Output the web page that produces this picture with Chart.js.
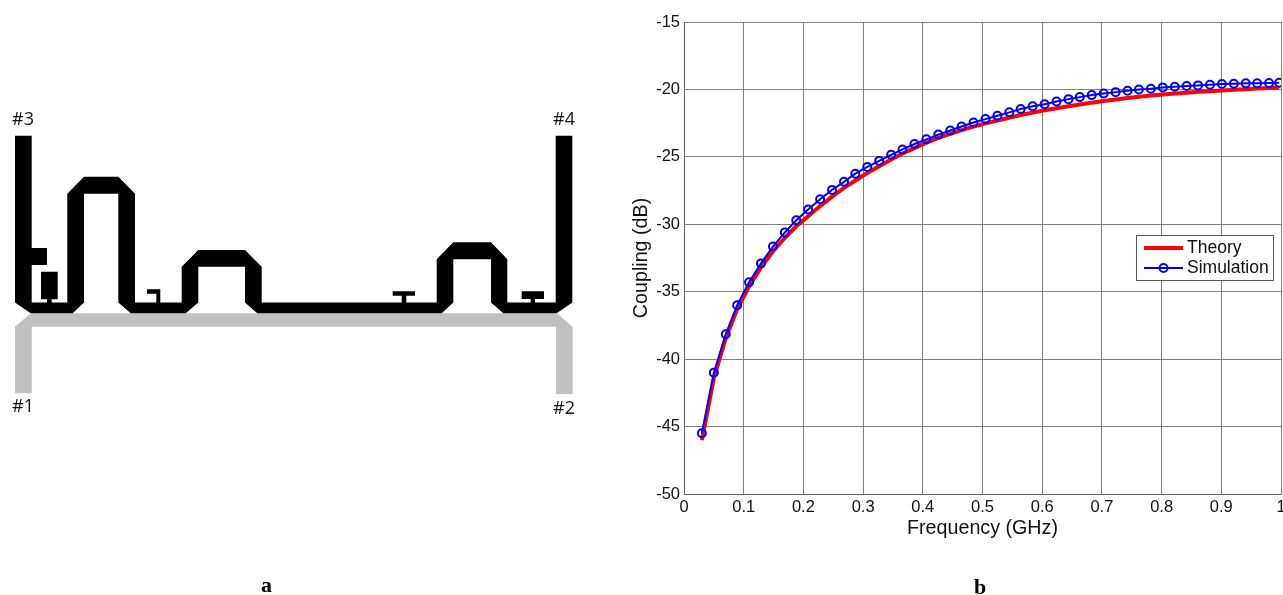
<!DOCTYPE html>
<html>
<head>
<meta charset="utf-8">
<title>Coupler layout and coupling</title>
<script src="https://cdn.jsdelivr.net/npm/chart.js@4/dist/chart.umd.js"></script>
<style>
  html, body { margin: 0; padding: 0; background: #fff; overflow: hidden; }
  canvas { position: absolute; top: 0; }
  #layoutChart { left: 0; }
  #couplingChart { left: 620px; }
  .port { position: absolute; font: 18px "Open Sans", sans-serif; color: #111; line-height: 22px; }
  .cap { position: absolute; font: bold 22px "Liberation Serif", serif; color: #000; line-height: 24px; }
</style>
</head>
<body>
<canvas id="layoutChart" width="620" height="595"></canvas>
<canvas id="couplingChart" width="663" height="595"></canvas>
<div class="port" style="left:12px;top:107px">#3</div>
<div class="port" style="left:553px;top:107px">#4</div>
<div class="port" style="left:12px;top:394px">#1</div>
<div class="port" style="left:553px;top:396px">#2</div>
<div class="cap" style="left:261px;top:573px">a</div>
<div class="cap" style="left:974px;top:575px">b</div>
<script>
// frequence en GHz
var frequency = [0.03, 0.05, 0.07, 0.089, 0.109, 0.129, 0.149, 0.169, 0.188, 0.208,
  0.228, 0.248, 0.268, 0.287, 0.307, 0.327, 0.347, 0.366, 0.386, 0.406,
  0.426, 0.446, 0.465, 0.485, 0.505, 0.525, 0.545, 0.564, 0.584, 0.604,
  0.624, 0.644, 0.663, 0.683, 0.703, 0.723, 0.743, 0.762, 0.782, 0.802,
  0.822, 0.842, 0.861, 0.881, 0.901, 0.921, 0.941, 0.96, 0.98, 0.997];

var theory = [-46, -41.4, -38.45, -36.3, -34.6, -33.2, -32, -31, -30.15, -29.4,
  -28.65, -27.95, -27.3, -26.75, -26.2, -25.7, -25.2, -24.75, -24.35, -23.95,
  -23.6, -23.3, -23.02, -22.76, -22.52, -22.3, -22.1, -21.9, -21.72, -21.55,
  -21.4, -21.25, -21.12, -20.98, -20.86, -20.75, -20.64, -20.54, -20.45, -20.37,
  -20.3, -20.24, -20.18, -20.13, -20.08, -20.03, -19.98, -19.94, -19.9, -19.87];

var simulation = [-45.5, -41, -38.15, -36, -34.3, -32.9, -31.65, -30.6, -29.7, -28.9,
  -28.15, -27.45, -26.85, -26.25, -25.75, -25.3, -24.85, -24.45, -24.05, -23.7,
  -23.35, -23.05, -22.75, -22.45, -22.2, -21.95, -21.7, -21.45, -21.25, -21.1,
  -20.9, -20.72, -20.57, -20.42, -20.3, -20.2, -20.1, -20, -19.95, -19.85,
  -19.8, -19.75, -19.7, -19.65, -19.6, -19.58, -19.55, -19.55, -19.53, -19.5];

var seriesNames = ["Theory", "Simulation"];
var xTitle = "Frequency (GHz)";
var yTitle = "Coupling (dB)";

// contours du circuit (x, y en pixels de la figure a)
var greyLine = [[30.7,313.3],[556.7,313.3],[572.7,326.7],[572.7,394],[556,394],[556,326.7],[31.7,326.7],[31.7,393.3],[15,393.3],[15,326.7]];
var blackLine = [[15,135.7],[31.7,135.7],[31.7,248],[47,248],[47,265],[31.7,265],[31.7,302.5],[67.3,302.5],[67.3,193.7],[84,176.7],
  [118.3,176.7],[135,193.7],[135,302.5],[181.7,302.5],[181.7,266.7],[198.3,250],[245,250],[261.7,266.7],[261.7,302.5],[436.7,302.5],
  [436.7,259.3],[453.3,242.3],[491,242.3],[507.3,259.3],[507.3,302.5],[555.7,302.5],[555.7,135.7],[572.3,135.7],[572.3,302.5],[556.7,313.3],
  [503.3,313.3],[491,302.5],[491,259.3],[453.3,259.3],[453.3,302.5],[441.7,313.3],[257.3,313.3],[245,302.5],[245,266.7],[198.3,266.7],
  [198.3,302.5],[185.7,313.3],[130.7,313.3],[118.3,302.5],[118.3,193.7],[84,193.7],[84,302.5],[72.7,313.3],[30.7,313.3],[15,302.5]];
var stub1 = [[41,271.7],[57.7,271.7],[57.7,299.3],[51.7,299.3],[51.7,303],[47,303],[47,299.3],[41,299.3]];
var stub2 = [[147,289.3],[160.3,289.3],[160.3,303],[156.3,303],[156.3,293.7],[147,293.7]];
var stub3 = [[392.7,291.3],[415,291.3],[415,295.7],[406.3,295.7],[406.3,303],[401.7,303],[401.7,295.7],[392.7,295.7]];
var stub4 = [[521.7,291.3],[544,291.3],[544,299],[535,299],[535,303],[530.7,303],[530.7,299],[521.7,299]];

function toPoints(shape) {
  return shape.map(function(p) { return { x: p[0], y: p[1] }; });
}

function shapeDataset(shape, color) {
  return {
    data: toPoints(shape),
    showLine: true,
    fill: "shape",
    backgroundColor: color,
    borderWidth: 0,
    pointRadius: 0,
    tension: 0
  };
}

// Figure a
new Chart(document.getElementById("layoutChart").getContext("2d"), {
  type: "scatter",
  data: {
    datasets: [
      shapeDataset(blackLine, "#000"),
      shapeDataset(stub1, "#000"),
      shapeDataset(stub2, "#000"),
      shapeDataset(stub3, "#000"),
      shapeDataset(stub4, "#000"),
      shapeDataset(greyLine, "#c0c0c0")
    ]
  },
  options: {
    responsive: false,
    animation: false,
    layout: { autoPadding: false },
    scales: {
      x: { type: "linear", display: false, min: 0, max: 620 },
      y: { type: "linear", display: false, min: 0, max: 595, reverse: true }
    },
    plugins: { legend: { display: false }, tooltip: { enabled: false } }
  }
});

// Legende dans le graphique, comme dans MATLAB
var boxLegend = {
  id: "boxLegend",
  afterDraw: function(chart) {
    var ctx = chart.ctx;
    ctx.save();
    ctx.fillStyle = "#fff";
    ctx.strokeStyle = "#555";
    ctx.lineWidth = 1;
    ctx.fillRect(516.5, 235.5, 137, 45);
    ctx.strokeRect(516.5, 235.5, 137, 45);

    ctx.strokeStyle = "#ff0000";
    ctx.lineWidth = 4;
    ctx.beginPath(); ctx.moveTo(524, 248); ctx.lineTo(563, 248); ctx.stroke();

    ctx.strokeStyle = "#0000ff";
    ctx.lineWidth = 2;
    ctx.beginPath(); ctx.moveTo(524, 268); ctx.lineTo(563, 268); ctx.stroke();
    ctx.beginPath(); ctx.arc(543.5, 268, 4, 0, Math.PI * 2); ctx.stroke();

    ctx.fillStyle = "#111";
    ctx.font = '17.5px "Liberation Sans", Arial, sans-serif';
    ctx.textBaseline = "middle";
    ctx.fillText(seriesNames[0], 567, 248);
    ctx.fillText(seriesNames[1], 567, 268);
    ctx.restore();
  }
};

var tickFont = { family: '"Liberation Sans", Arial, sans-serif', size: 16.5 };
var titleFont = { family: '"Liberation Sans", Arial, sans-serif', size: 19.7 };

// Figure b
new Chart(document.getElementById("couplingChart").getContext("2d"), {
  type: "line",
  data: {
    labels: frequency,
    datasets: [
      {
        label: seriesNames[1],
        data: simulation,
        borderColor: "#0000ff",
        borderWidth: 2,
        pointStyle: "circle",
        pointRadius: 4,
        pointBorderColor: "#0000ff",
        pointBorderWidth: 2,
        pointBackgroundColor: "transparent",
        tension: 0
      },
      {
        label: seriesNames[0],
        data: theory,
        borderColor: "#ff0000",
        borderWidth: 4,
        pointRadius: 0,
        tension: 0
      }
    ]
  },
  options: {
    responsive: false,
    animation: false,
    layout: { autoPadding: false, padding: { top: 22, right: 2, left: 10, bottom: 55 } },
    scales: {
      x: {
        type: "linear",
        min: 0,
        max: 1,
        ticks: {
          stepSize: 0.1,
          color: "#111",
          font: tickFont,
          padding: 4,
          maxRotation: 0,
          callback: function(v) { return Math.round(v * 10) / 10; }
        },
        grid: { color: "#808080", lineWidth: 1, drawTicks: false },
        border: { color: "#666" },
        title: { display: true, text: xTitle, color: "#111", font: titleFont, padding: { top: 2, bottom: 0 } },
        afterFit: function(scale) {
          scale.height = 46;
          scale.paddingLeft = 0;
          scale.paddingRight = 0;
        }
      },
      y: {
        type: "linear",
        min: -50,
        max: -15,
        ticks: { stepSize: 5, color: "#111", font: tickFont, padding: 4 },
        grid: { color: "#808080", lineWidth: 1, drawTicks: false },
        border: { color: "#666" },
        title: { display: true, text: yTitle, color: "#111", font: titleFont, padding: 0 },
        afterFit: function(scale) {
          scale.width = 54;
        }
      }
    },
    plugins: { legend: { display: false }, tooltip: { enabled: false } }
  },
  plugins: [boxLegend]
});
</script>
</body>
</html>
